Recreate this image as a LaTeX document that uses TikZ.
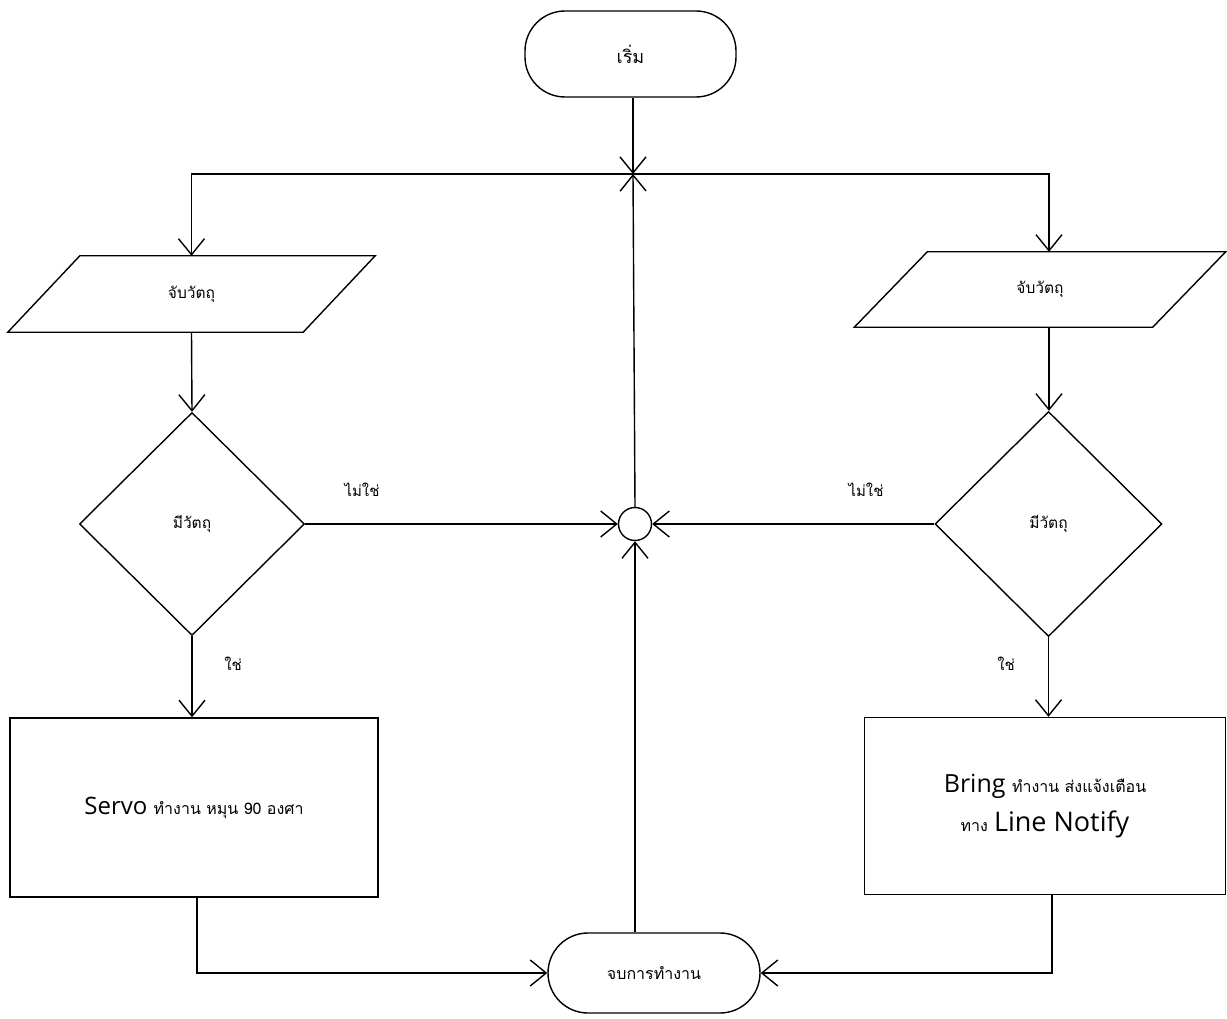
\documentclass[tikz,border=0pt]{standalone}
\usepackage{fontspec}
\setmainfont{Open Sans}
\newfontfamily\thaifont[Script=Thai]{Loma}
\usetikzlibrary{arrows.meta,shapes.geometric}
\begin{document}
\begin{tikzpicture}[x=1pt,y=-1pt,
  line/.style={line width=1.4pt, draw=black},
  arr/.style={line, -{Straight Barb[length=16pt,width=26pt,line width=1.4pt]}},
  term/.style={line, rectangle, rounded corners=40pt, inner sep=0pt, font=\thaifont\fontsize{16}{19}\selectfont},
  paranode/.style={rectangle, inner sep=0pt, minimum height=76pt, font=\thaifont\fontsize{15.5}{18}\selectfont},
  decision/.style={line, diamond, inner sep=0pt, font=\thaifont\fontsize{15.5}{18}\selectfont},
  procbox/.style={line, rectangle, inner sep=0pt, align=center},
  lbl/.style={font=\thaifont\fontsize{15}{18}\selectfont, inner sep=0pt}
]
\useasboundingbox[fill=white] (0,0) rectangle (1227,1019);

% nodes
\node[term, minimum width=211pt, minimum height=86pt, font=\thaifont\fontsize{18}{21}\selectfont] (start) at (630.5,54) {เริ่ม};
\coordinate (J) at (633,174);
\node[line, circle, minimum size=33pt, inner sep=0pt] (C) at (635,524) {};
\node[term, minimum width=212pt, minimum height=80pt] (end) at (654,973) {จบการทำงาน};

\node[paranode, minimum width=223pt] (LP) at (191.5,294) {จับวัตถุ};
\node[paranode, minimum width=225pt, minimum height=75pt] (RP) at (1040,289.5) {จับวัตถุ};
\draw[line] (LP.north west) -- ([xshift=72pt]LP.north east) -- (LP.south east) -- ([xshift=-72pt]LP.south west) -- cycle;
\draw[line] (RP.north west) -- ([xshift=73pt]RP.north east) -- (RP.south east) -- ([xshift=-73pt]RP.south west) -- cycle;

\node[decision, minimum width=225pt, minimum height=223pt] (LD) at (192,524) {มีวัตถุ};
\node[decision, minimum width=227pt, minimum height=225pt] (RD) at (1048.5,524) {มีวัตถุ};

\node[procbox, minimum width=368pt, minimum height=179pt] (LR) at (194,807.5)
  {\fontsize{24}{28}\selectfont Servo {\thaifont\fontsize{16}{20}\selectfont ทำงาน หมุน 90 องศา}};
\node[procbox, minimum width=361pt, minimum height=177pt] (RR) at (1045,806)
  {\fontsize{25}{28}\selectfont Bring {\thaifont\fontsize{16}{20}\selectfont ทำงาน ส่งแจ้งเตือน}\\[12pt]
   {\thaifont\fontsize{16}{20}\selectfont ทาง}\hspace{6pt}{\fontsize{27}{28}\selectfont Line Notify}};

\node[lbl] (nol) at (362,490) {ไม่ใช่};
\node[lbl] (nor) at (866,490) {ไม่ใช่};
\node[lbl] (yesl) at (233,664) {ใช่};
\node[lbl] (yesr) at (1006,664) {ใช่};

% connectors
\draw[arr] (start.south -| J) -- (J);
\draw[arr] (C.north) -- (J);
\draw[arr] (J) -| (LP.north);
\draw[arr] (J) -| ([xshift=9pt]RP.north);
\draw[arr] (LP.south) -- (LD.north);
\draw[arr] ([xshift=9pt]RP.south) -- ([xshift=9pt]RP.south |- RD.north);
\draw[arr] (LD.east) -- (C.west);
\draw[arr] (RD.west) -- (C.east);
\draw[arr] (LD.south) -- (LD.south |- LR.north);
\draw[arr] (RD.south) -- (RD.south |- RR.north);
\draw[arr] ([xshift=3pt]LR.south) |- (end.west);
\draw[arr] ([xshift=7pt]RR.south) |- (end.east);
\draw[arr] (end.north -| C) -- (C.south);
\end{tikzpicture}
\end{document}
